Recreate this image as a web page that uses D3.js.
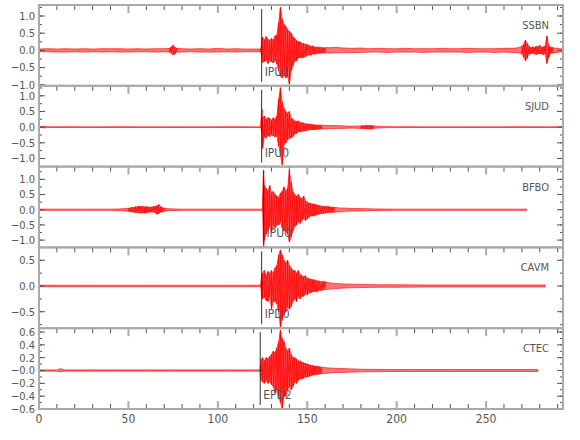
<!DOCTYPE html>
<html>
<head>
<meta charset="utf-8">
<script src="https://cdn.jsdelivr.net/npm/d3@7"></script>
<style>
  body { margin: 0; background: #fff; }
  text { font-family: "Liberation Sans Narrow", "DejaVu Sans Condensed", sans-serif; fill: #555; }
</style>
</head>
<body>
<div id="chart"></div>
<script>
// station names, picks, axis setup
var stations = ["SSBN", "SJUD", "BFBO", "CAVM", "CTEC"];
var pickNames = ["IPU1", "IPU0", "IPU0", "IPD0", "EPD2"];
var pickTimes = [124.5, 124.5, 125.5, 124.5, 123.7];
var yDomains = [[-1.03, 1.32], [-1.26, 1.32], [-1.24, 1.42], [-0.82, 0.75], [-0.6, 0.66]];
var yMajor = [
  [-1, -0.5, 0, 0.5, 1],
  [-1, -0.5, 0, 0.5, 1],
  [-1, -0.5, 0, 0.5, 1],
  [-0.5, 0, 0.5],
  [-0.6, -0.4, -0.2, 0, 0.2, 0.4, 0.6]
];
var yLabels = [
  ["−1.0", "−0.5", "0.0", "0.5", "1.0"],
  ["−1.0", "−0.5", "0.0", "0.5", "1.0"],
  ["−1.0", "−0.5", "0.0", "0.5", "1.0"],
  ["−0.5", "0.0", "0.5"],
  ["−0.6", "−0.4", "−0.2", "−0.0", "0.2", "0.4", "0.6"]
];
var yMinorStep = [0.25, 0.25, 0.25, 0.25, 0.1];
var xTicks = [0, 50, 100, 150, 200, 250];
var xLabels = ["0", "50", "100", "150", "200", "250"];

// traces: [time, upper, lower]
var ssbn = [[0,.04,-.04],[5,.05,-.04],[10,.04,-.05],[15,.05,-.05],[20,.04,-.04],[25,.05,-.05],[30,.04,-.04],[35,.05,-.05],[40,.05,-.04],[45,.05,-.05],[50,.04,-.05],[55,.05,-.04],[60,.04,-.04],[65,.05,-.05],[70,.05,-.04],[73,.06,-.05],[74,.1,-.08],[75,.15,-.13],[76,.09,-.1],[77,.06,-.05],[80,.05,-.05],[85,.04,-.04],[90,.05,-.05],[95,.04,-.05],[100,.06,-.05],[105,.04,-.04],[110,.05,-.05],[115,.04,-.04],[120,.04,-.04],[124,.04,-.04],
  [125,.38,-.35],[126,.3,-.32],[127,.4,-.28],[128,.33,-.38],[129,.28,-.3],[130,.35,-.33],[131,.3,-.36],[132,.42,-.3],[133,.45,-.4],[134,.8,-.6],[135,1.25,-.75],[136,.9,-.8],[137,.75,-.7],[138,.7,-.8],[139,.6,-.75],[140,.55,-.99],[141,.5,-.6],[142,.4,-.45],[143,.35,-.3],[144,.28,-.3],[145,.25,-.22],[146,.25,-.2],[147,.2,-.22],[148,.2,-.2],[149,.17,-.18],[150,.17,-.15],[151,.14,-.13],[152,.12,-.14],[153,.13,-.1],[154,.1,-.11],[155,.09,-.1],[156,.1,-.08],[157,.08,-.09],[158,.09,-.07],[159,.07,-.08],[160,.08,-.07],[163,.08,-.08],[166,.09,-.07],[170,.07,-.07],[175,.06,-.07],[180,.07,-.06],
  [185,.05,-.05],[190,.06,-.05],[195,.05,-.06],[200,.05,-.05],[205,.06,-.05],[210,.05,-.05],[215,.05,-.06],[220,.05,-.05],[225,.06,-.05],[230,.05,-.05],[235,.05,-.05],[240,.06,-.06],[245,.05,-.05],[250,.05,-.05],[255,.05,-.06],[260,.06,-.05],[265,.06,-.06],[268,.08,-.07],[270,.12,-.1],[271,.18,-.2],[272,.3,-.3],[273,.2,-.22],[274,.12,-.1],[275,.08,-.1],[276,.1,-.08],[277,.08,-.1],[278,.12,-.12],[279,.1,-.09],[280,.15,-.1],[281,.09,-.1],[282,.1,-.12],[283,.12,-.1],[284,.42,-.38],[285,.15,-.2],[286,.1,-.08],[287,.08,-.08],[290,.06,-.06],[292.6,.04,-.04]];

var sjud = [[0,.01,-.01],[2,.03,-.02],[4,.02,-.02],[6,.01,-.01],[15,.012,-.01],[30,.01,-.012],[45,.012,-.01],[60,.01,-.01],[75,.012,-.012],[90,.01,-.01],[105,.012,-.01],[120,.01,-.01],[124,.01,-.01],
  [124.6,.57,-.2],[125,.3,-.68],[126,.35,-.3],[127,.25,-.35],[128,.3,-.25],[129,.28,-.3],[130,.22,-.25],[131,.3,-.28],[132,.25,-.3],[133,.35,-.3],[134,.9,-.6],[135,1.26,-.9],[136,.8,-1.2],[137,.6,-.55],[138,.5,-.5],[139,.45,-.4],[140,.5,-.35],[141,.3,-.35],[142,.25,-.3],[143,.2,-.22],[144,.18,-.2],[145,.2,-.15],[146,.15,-.15],[147,.14,-.13],[148,.13,-.12],[149,.11,-.12],[150,.1,-.1],[151,.1,-.09],[152,.09,-.08],[153,.08,-.08],[154,.07,-.08],[155,.07,-.07],[156,.06,-.07],[157,.07,-.06],[158,.06,-.06],[162,.05,-.05],[166,.05,-.04],[170,.04,-.04],[175,.03,-.03],[180,.04,-.04],[181,.05,-.04],[182,.04,-.05],[183,.06,-.05],[184,.05,-.05],[185,.05,-.06],[186,.05,-.06],[187,.04,-.04],[189,.03,-.03],[195,.015,-.015],[210,.012,-.012],[225,.01,-.01],[240,.012,-.012],[255,.01,-.01],[270,.012,-.01],[285,.01,-.01],[293,.01,-.01]];

var bfbo = [[0,.02,-.02],[10,.02,-.02],[20,.02,-.02],[30,.02,-.02],[40,.02,-.02],[46,.03,-.03],[50,.05,-.05],[51,.06,-.06],[52,.08,-.07],[53,.07,-.08],[54,.1,-.09],[55,.09,-.1],[56,.12,-.1],[57,.1,-.11],[58,.11,-.1],[59,.09,-.1],[60,.1,-.1],[61,.09,-.08],[62,.08,-.08],[63,.09,-.07],[64,.1,-.08],[65,.11,-.1],[66,.13,-.15],[67,.17,-.12],[68,.1,-.08],[69,.07,-.07],[70,.05,-.05],[73,.03,-.03],[80,.02,-.02],[90,.02,-.02],[100,.02,-.02],[110,.02,-.02],[120,.02,-.02],[125,.02,-.02],
  [125.6,1.3,-1.2],[126,.8,-1.0],[127,.7,-.8],[128,.6,-.7],[129,.8,-.55],[130,.55,-.75],[131,.6,-.5],[132,.5,-.6],[133,.45,-.5],[134,.4,-.5],[135,.55,-.4],[136,.6,-.6],[137,.75,-.7],[138,.6,-.7],[139,.7,-.8],[140,1.3,-1.06],[141,.9,-.9],[142,.6,-.7],[143,.5,-.55],[144,.45,-.5],[145,.5,-.4],[146,.4,-.45],[147,.35,-.35],[148,.45,-.3],[149,.3,-.35],[150,.25,-.3],[151,.22,-.25],[152,.2,-.2],[153,.19,-.2],[154,.18,-.2],[155,.16,-.17],[156,.15,-.15],[157,.13,-.13],[158,.12,-.12],[159,.11,-.12],[160,.1,-.11],[161,.11,-.1],[162,.1,-.09],[163,.09,-.08],[164,.08,-.09],[165,.08,-.08],[168,.06,-.07],[172,.05,-.05],[176,.04,-.04],[180,.04,-.04],[185,.03,-.03],[190,.025,-.025],[200,.02,-.02],[215,.02,-.02],[230,.02,-.02],[245,.02,-.02],[260,.02,-.02],[272.7,.02,-.02]];

var cavm = [[0,.015,-.015],[15,.015,-.015],[30,.015,-.015],[45,.015,-.015],[60,.015,-.015],[75,.015,-.015],[90,.015,-.015],[105,.015,-.015],[120,.015,-.015],[124,.015,-.015],
  [124.6,.22,-.2],[125,.25,-.25],[126,.3,-.22],[127,.2,-.28],[128,.28,-.3],[129,.25,-.2],[130,.3,-.44],[131,.25,-.3],[132,.35,-.3],[133,.4,-.35],[134,.6,-.5],[135,.7,-.8],[136,.6,-.65],[137,.5,-.55],[138,.45,-.5],[139,.5,-.4],[140,.4,-.45],[141,.35,-.4],[142,.3,-.3],[143,.3,-.25],[144,.25,-.3],[145,.3,-.2],[146,.22,-.25],[147,.2,-.2],[148,.18,-.2],[149,.2,-.15],[150,.15,-.17],[151,.14,-.13],[152,.13,-.13],[153,.12,-.11],[154,.12,-.1],[155,.1,-.11],[156,.1,-.1],[157,.09,-.08],[158,.08,-.09],[159,.09,-.07],[160,.08,-.07],[163,.06,-.06],[166,.05,-.05],[170,.04,-.04],[175,.035,-.035],[180,.03,-.03],[190,.025,-.025],[200,.025,-.025],[215,.02,-.02],[230,.02,-.02],[245,.02,-.02],[260,.02,-.02],[275,.02,-.02],[283,.02,-.02]];

var ctec = [[0,.01,-.01],[10,.01,-.01],[12,.03,-.02],[14,.01,-.01],[30,.01,-.01],[45,.01,-.01],[60,.01,-.01],[75,.01,-.01],[90,.01,-.01],[105,.01,-.01],[120,.01,-.01],[123.6,.01,-.01],
  [124,.17,-.15],[125,.2,-.18],[126,.15,-.2],[127,.2,-.15],[128,.18,-.2],[129,.22,-.18],[130,.25,-.22],[131,.3,-.25],[132,.28,-.35],[133,.35,-.3],[134,.45,-.4],[135,.63,-.5],[136,.5,-.59],[137,.45,-.4],[138,.35,-.4],[139,.3,-.3],[140,.35,-.25],[141,.25,-.3],[142,.2,-.25],[143,.2,-.18],[144,.18,-.2],[145,.15,-.15],[146,.15,-.13],[147,.13,-.13],[148,.12,-.12],[149,.11,-.1],[150,.1,-.1],[151,.09,-.09],[152,.08,-.08],[153,.08,-.07],[154,.07,-.07],[155,.07,-.06],[156,.06,-.06],[157,.06,-.05],[158,.05,-.05],[162,.04,-.04],[166,.035,-.03],[170,.03,-.03],[180,.02,-.02],[195,.015,-.015],[210,.015,-.015],[230,.015,-.015],[250,.015,-.015],[265,.015,-.015],[279,.015,-.015]];

var traces = [ssbn, sjud, bfbo, cavm, ctec];

var W = 580, H = 440;
var margin = {top: 5, right: 17, bottom: 31, left: 39};
var width = W - margin.left - margin.right;
var ph = (H - margin.top - margin.bottom) / stations.length;

var svg = d3.select("#chart").append("svg")
    .attr("width", W)
    .attr("height", H);

var x = d3.scaleLinear().domain([0, 293]).range([margin.left, margin.left + width]);
var xMinor = d3.range(0, 291, 10);

stations.forEach(function(name, i) {
  var top = margin.top + i * ph, bot = top + ph;
  var y = d3.scaleLinear().domain(yDomains[i]).range([bot, top]);
  var g = svg.append("g");

  g.append("clipPath").attr("id", "clip" + i)
    .append("rect").attr("x", margin.left).attr("y", top).attr("width", width).attr("height", ph);

  var data = traces[i];
  var area = d3.area()
      .x(function(d) { return x(d[0]); })
      .y0(function(d) { return y(d[2]); })
      .y1(function(d) { return y(d[1]); });
  var line = d3.line()
      .x(function(d) { return x(d[0]); })
      .y(function(d) { return y(d[1]); });

  // zigzag only where samples are dense (1 s apart)
  var runs = [], cur = [];
  data.forEach(function(d, k) {
    if (k > 0 && d[0] - data[k - 1][0] > 1.5) {
      if (cur.length > 2) runs.push(cur);
      cur = [];
    }
    cur.push([d[0], d[1]]); cur.push([d[0], d[2]]);
  });
  if (cur.length > 2) runs.push(cur);

  var tg = g.append("g").attr("clip-path", "url(#clip" + i + ")");
  tg.append("path").attr("d", area(data))
    .attr("fill", "#ff0000").attr("fill-opacity", 0.55)
    .attr("stroke", "#ff0000").attr("stroke-width", 0.6);
  tg.selectAll(".zz").data(runs).enter().append("path")
    .attr("d", line)
    .attr("fill", "none").attr("stroke", "#ff0000").attr("stroke-width", 0.8);

  // pick
  var px = x(pickTimes[i]);
  g.append("line").attr("x1", px).attr("x2", px).attr("y1", top + 4).attr("y2", bot - 4)
    .attr("stroke", "#333").attr("stroke-width", 1);
  g.append("text").attr("x", px + 3).attr("y", bot - 10)
    .attr("font-size", 12).text(pickNames[i]);

  // station label
  g.append("text").attr("x", 549).attr("y", top + 24)
    .attr("text-anchor", "end").attr("font-size", 11).text(name);

  // y ticks (left & right, inward)
  var minor = d3.range(Math.ceil(yDomains[i][0] / yMinorStep[i]) * yMinorStep[i], yDomains[i][1], yMinorStep[i]);
  minor.forEach(function(v) {
    g.append("line").attr("x1", margin.left).attr("x2", margin.left + 3).attr("y1", y(v)).attr("y2", y(v)).attr("stroke", "#555");
    g.append("line").attr("x1", margin.left + width).attr("x2", margin.left + width - 3).attr("y1", y(v)).attr("y2", y(v)).attr("stroke", "#555");
  });
  yMajor[i].forEach(function(v, k) {
    g.append("line").attr("x1", margin.left).attr("x2", margin.left + 6).attr("y1", y(v)).attr("y2", y(v)).attr("stroke", "#555");
    g.append("line").attr("x1", margin.left + width).attr("x2", margin.left + width - 6).attr("y1", y(v)).attr("y2", y(v)).attr("stroke", "#555");
    g.append("text").attr("x", margin.left - 4).attr("y", y(v)).attr("dy", "0.35em")
      .attr("text-anchor", "end").attr("font-size", 11).text(yLabels[i][k]);
  });

  // x ticks at top of panel (and bottom of the last one)
  xMinor.forEach(function(t) {
    var major = xTicks.indexOf(t) >= 0;
    g.append("line").attr("x1", x(t)).attr("x2", x(t)).attr("y1", top).attr("y2", top + (major ? 8 : 5))
      .attr("stroke", major ? "#aaa" : "#555").attr("stroke-width", major ? 2 : 1);
    if (i === stations.length - 1) {
      g.append("line").attr("x1", x(t)).attr("x2", x(t)).attr("y1", bot).attr("y2", bot - (major ? 8 : 5))
        .attr("stroke", major ? "#aaa" : "#555").attr("stroke-width", major ? 2 : 1);
    }
  });

  // frame
  g.append("rect").attr("x", margin.left).attr("y", top).attr("width", width).attr("height", ph)
    .attr("fill", "none").attr("stroke", "#aaa").attr("stroke-width", 2);
});

// bottom labels
svg.append("g").selectAll("text").data(xTicks).enter().append("text")
  .attr("x", function(d) { return x(d); })
  .attr("y", H - margin.bottom + 14)
  .attr("text-anchor", "middle").attr("font-size", 12)
  .text(function(d, k) { return xLabels[k]; });
</script>
</body>
</html>
